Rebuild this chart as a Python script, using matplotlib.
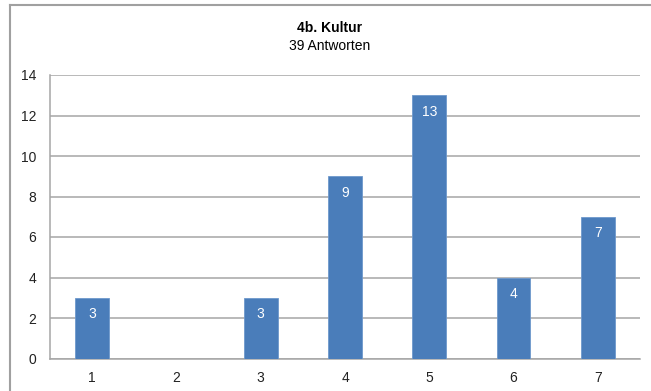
import numpy as np
import matplotlib
matplotlib.use("Agg")
import matplotlib.pyplot as plt
from matplotlib.lines import Line2D

# Antworten je Skalenstufe
categories = ["1", "2", "3", "4", "5", "6", "7"]
counts = [3, 0, 3, 9, 13, 4, 7]
yticks = [0, 2, 4, 6, 8, 10, 12, 14]
title = "4b. Kultur"
subtitle = "39 Antworten"

plt.rcParams["font.family"] = ["Liberation Sans", "DejaVu Sans"]

BAR = "#4a7dba"
GRID = "#a6a6a6"

fig = plt.figure(figsize=(6.51, 3.91), dpi=100)
W, H = 651, 391
ax = fig.add_axes([50 / W, (H - 358.5) / H, 590 / W, (358.5 - 75) / H])

x = np.arange(len(categories))
bars = ax.bar(x, counts, width=0.4, color=BAR, edgecolor="#6e98cc", linewidth=0.6, zorder=3)

for xi, v in zip(x, counts):
    if v > 0:
        ax.annotate(str(v), (xi, v), xytext=(0, -12), textcoords="offset points",
                    ha="center", va="center", color="white", fontsize=10, zorder=4)

ax.set_xlim(-0.5, len(categories) - 0.5)
ax.set_ylim(0, 14)
ax.set_yticks(yticks)
ax.set_xticks(x)
ax.set_xticklabels(categories)
ax.tick_params(length=0, labelsize=10, colors="#222222", pad=9)
ax.tick_params(axis="y", pad=10)
ax.yaxis.grid(True, color=GRID, linewidth=1.1, zorder=0)

for s in ["top", "right"]:
    ax.spines[s].set_visible(False)
for s in ["left", "bottom"]:
    ax.spines[s].set_color(GRID)
    ax.spines[s].set_linewidth(1.1)

fig.text(330 / W, 1 - 28 / H, title, ha="center", va="center", fontsize=10, fontweight="bold")
fig.text(330 / W, 1 - 46 / H, subtitle, ha="center", va="center", fontsize=10)

# outer chart frame
fig.add_artist(Line2D([10 / W, 1.0], [1 - 5 / H, 1 - 5 / H], transform=fig.transFigure,
                      color="#a0a0a0", linewidth=1.5))
fig.add_artist(Line2D([10 / W, 10 / W], [0.0, 1 - 5 / H], transform=fig.transFigure,
                      color="#a0a0a0", linewidth=1.5))

fig.savefig("out.png", dpi=100)
